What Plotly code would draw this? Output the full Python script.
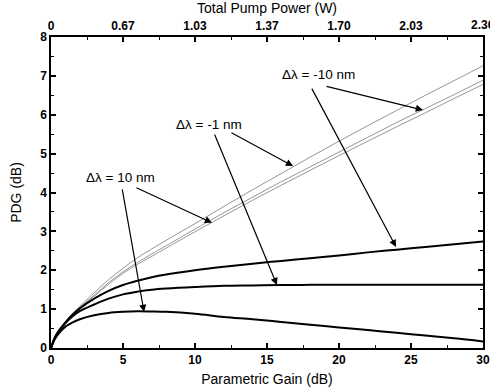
import plotly.graph_objects as go

gain = [0, 0.25, 0.5, 1, 1.5, 2, 3, 4, 5, 6, 7, 8, 10, 12, 14, 16, 18, 20, 22, 24, 26, 28, 30]

thick_10nm = [0, 0.22, 0.36, 0.55, 0.66, 0.74, 0.84, 0.9, 0.93, 0.945, 0.94, 0.93, 0.88,
              0.8, 0.74, 0.67, 0.6, 0.53, 0.46, 0.39, 0.32, 0.25, 0.17]
thick_m1nm = [0, 0.25, 0.41, 0.64, 0.82, 0.95, 1.12, 1.27, 1.38, 1.45, 1.5, 1.53, 1.57,
              1.6, 1.61, 1.62, 1.625, 1.63, 1.63, 1.63, 1.63, 1.63, 1.63]
thick_m10nm = [0, 0.25, 0.42, 0.66, 0.86, 1.02, 1.27, 1.47, 1.62, 1.73, 1.82, 1.89, 2.0,
               2.09, 2.17, 2.24, 2.31, 2.38, 2.46, 2.53, 2.6, 2.67, 2.74]

thin_a = [0, 0.25, 0.42, 0.67, 0.88, 1.07, 1.42, 1.76, 2.05, 2.32, 2.55, 2.77, 3.2,
          3.64, 4.07, 4.49, 4.91, 5.32, 5.72, 6.11, 6.5, 6.88, 7.26]
thin_b = [0, 0.25, 0.42, 0.66, 0.86, 1.04, 1.36, 1.68, 1.96, 2.2, 2.42, 2.63, 3.06,
          3.48, 3.88, 4.28, 4.66, 5.04, 5.42, 5.8, 6.16, 6.52, 6.89]
thin_c = [0, 0.25, 0.42, 0.66, 0.86, 1.03, 1.33, 1.64, 1.92, 2.15, 2.36, 2.57, 2.99,
          3.4, 3.8, 4.19, 4.57, 4.95, 5.32, 5.69, 6.05, 6.42, 6.78]

gain_ticks = [0, 5, 10, 15, 20, 25, 30]
power_labels = ["0", "0.67", "1.03", "1.37", "1.70", "2.03", "2.36"]
pdg_ticks = [0, 1, 2, 3, 4, 5, 6, 7, 8]

labels = ["\u0394\u03bb = -10 nm", "\u0394\u03bb = -1 nm", "\u0394\u03bb = 10 nm"]
label_pos = [(18.6, 7.04), (11.0, 5.75), (4.86, 4.39)]
# arrows: (head_x, head_y, tail_x, tail_y)
arrows = [
    (25.83, 6.12, 19.03, 6.74),
    (23.96, 2.60, 18.06, 6.71),
    (16.81, 4.68, 12.43, 5.56),
    (15.69, 1.62, 11.32, 5.53),
    (11.18, 3.22, 5.83, 4.14),
    (6.46, 0.93, 4.93, 4.12),
]

fig = go.Figure()
for ys in [thin_a, thin_b, thin_c]:
    fig.add_trace(go.Scatter(x=gain, y=ys, mode="lines", line=dict(color="#7a7a7a", width=0.8, shape="spline"),
                             showlegend=False))
for ys in [thick_m10nm, thick_m1nm, thick_10nm]:
    fig.add_trace(go.Scatter(x=gain, y=ys, mode="lines", line=dict(color="black", width=2, shape="spline"),
                             showlegend=False))
# invisible traces for top and right axes
fig.add_trace(go.Scatter(x=[0, 30], y=[0, 0], xaxis="x2", yaxis="y", mode="lines", line=dict(width=0),
                         showlegend=False, hoverinfo="skip"))
fig.add_trace(go.Scatter(x=[0, 30], y=[0, 0], xaxis="x", yaxis="y2", mode="lines", line=dict(width=0),
                         showlegend=False, hoverinfo="skip"))

for (t, (lx, ly)) in zip(labels, label_pos):
    fig.add_annotation(x=lx, y=ly, text=t, showarrow=False, xref="x", yref="y",
                       font=dict(family="Arial", size=13.5, color="black"))
for hx, hy, tx, ty in arrows:
    fig.add_annotation(x=hx, y=hy, ax=tx, ay=ty, xref="x", yref="y", axref="x", ayref="y",
                       text="", showarrow=True, arrowhead=2, arrowsize=1.2, arrowwidth=1.2,
                       arrowcolor="black")

tickfont = dict(family="Arial", size=12, color="black", weight="bold")
titlefont = dict(family="Arial", size=14, color="black")
minor = dict(ticks="inside", ticklen=3, tickwidth=1.2, tickcolor="black")
axis_common = dict(showgrid=False, zeroline=False, showline=True, linecolor="black", linewidth=1.5,
                   ticks="inside", ticklen=5, tickwidth=1.5, tickcolor="black", tickfont=tickfont,
                   automargin=False)

# last top-axis label sits at the page edge (plotly drops it), so draw it as text
fig.add_annotation(x=gain_ticks[-1], y=1, xref="x", yref="paper", text=power_labels[-1],
                   showarrow=False, xanchor="center", yanchor="bottom", yshift=3, font=tickfont)

fig.update_layout(
    width=490, height=390,
    margin=dict(l=51, r=7, t=37, b=42),
    plot_bgcolor="white", paper_bgcolor="white",
    font=dict(family="Arial", color="black"),
    hovermode=False,
    xaxis=dict(range=[0, 30], tickvals=gain_ticks,
               title=dict(text="Parametric Gain (dB)", font=titlefont, standoff=8),
               minor=dict(dtick=2.5, tick0=0, **minor), **axis_common),
    xaxis2=dict(range=[0, 30], overlaying="x", side="top", tickvals=gain_ticks[:-1], ticktext=power_labels[:-1],
                title=dict(text="Total Pump Power (W)", font=titlefont, standoff=6),
                minor=dict(dtick=2.5, tick0=0, **minor), **axis_common),
    yaxis=dict(range=[0, 8], tickvals=pdg_ticks,
               title=dict(text="PDG (dB)", font=titlefont, standoff=15),
               minor=dict(dtick=0.5, **minor), **axis_common),
    yaxis2=dict(range=[0, 8], overlaying="y", side="right", tickvals=pdg_ticks, showticklabels=False,
                minor=dict(dtick=0.5, **minor), **axis_common),
)

fig.write_html("out.html", config={"displayModeBar": False},
               post_script="document.body.style.margin='0';document.body.style.overflow='hidden';")
